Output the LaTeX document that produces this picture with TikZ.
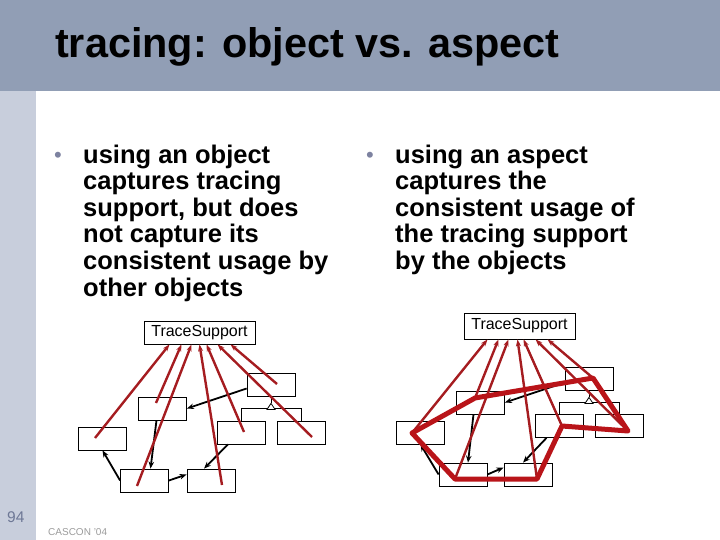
\documentclass[tikz,border=0pt]{standalone}
\usepackage{fontspec}
\setmainfont{Liberation Sans}
\usetikzlibrary{arrows.meta}

\definecolor{headband}{RGB}{145,158,181}
\definecolor{sideband}{RGB}{200,206,220}
\definecolor{bulletgray}{RGB}{125,130,160}
\definecolor{pagegray}{RGB}{110,120,150}
\definecolor{footgray}{RGB}{155,155,155}
\definecolor{tracered}{RGB}{165,28,32}
\definecolor{aspectred}{RGB}{185,20,25}

\begin{document}
\begin{tikzpicture}[x=1pt,y=-1pt,
  obj/.style={draw,line width=0.8pt,minimum width=48pt,minimum height=23pt,inner sep=0pt},
  tsbox/.style={draw,line width=0.8pt,minimum width=111pt,inner sep=0pt,font=\fontsize{16}{18}\selectfont},
  callarrow/.style={-{Stealth[length=7pt,width=5.5pt]},line width=1.8pt},
  usearrow/.style={-{Stealth[length=7pt,width=5pt]},line width=2.4pt,tracered},
  aspectline/.style={line width=5pt,aspectred,line join=round},
  bodytext/.style={anchor=north west,align=left,inner sep=0pt,font=\fontsize{25.5}{26.6}\selectfont\bfseries}]

\useasboundingbox (0,0) rectangle (720,540);
\fill[headband] (0,0) rectangle (720,91);
\fill[sideband] (0,91) rectangle (36,540);

\node (title) [anchor=base west,inner sep=0pt,font=\fontsize{41.4}{48}\selectfont\bfseries] at (55,58) {tracing: object vs. aspect};

%bullets
\node (lbul) [anchor=base west,inner sep=0pt,text=bulletgray,font=\fontsize{22}{24}\selectfont] at (54,163) {•};
\node (ltext) [bodytext] at (83,144.5) {using an object\\captures tracing\\support, but does\\not capture its\\consistent usage by\\other objects};
\node (rbul) [anchor=base west,inner sep=0pt,text=bulletgray,font=\fontsize{22}{24}\selectfont] at (366,163) {•};
\node (rtext) [bodytext] at (395,144.5) {using an aspect\\captures the\\consistent usage of\\the tracing support\\by the objects};

\node (page) [anchor=base west,inner sep=0pt,text=pagegray,font=\fontsize{15.5}{17}\selectfont] at (7,522) {94};
\node (foot) [anchor=base west,inner sep=0pt,text=footgray,font=\fontsize{10}{12}\selectfont] at (48,535) {CASCON '04};

%object side
\node (lts) [tsbox,minimum height=23pt] at (199.5,332.5) {TraceSupport};
\node (la) [obj] at (271,384.5) {};
\node (lb) [obj] at (162.5,408.5) {};
\node (lc) [obj] at (102.5,438.5) {};
\node (ld) [obj] at (144.5,480.5) {};
\node (le) [obj] at (211,480.5) {};
\node (lf) [obj] at (241,432.5) {};
\node (lg) [obj] at (301,432.5) {};

\draw[line width=0.8pt] (lf.north) -- ++(0,-12) -| (lg.north);
\draw[line width=0.8pt] (la.south) -- ++(0,7) coordinate (latip);
\draw[line width=0.8pt,fill=white] (latip) -- ++(-4,6) -- ++(8,0) -- cycle;

\draw[callarrow] ([yshift=-4pt]la.west) -- (lb.east);
\draw[callarrow] ([xshift=-6pt]lb.south) -- ([xshift=6pt]ld.north);
\draw[callarrow] (ld.west) -- (lc.south);
\draw[callarrow] (ld.east) -- ([yshift=6pt]le.west);
\draw[callarrow] ([xshift=-13pt]lf.south) -- ([xshift=-7pt]le.north);

\coordinate (lcp) at (95,438);
\coordinate (lbp) at (156,403);
\coordinate (ldp) at (137,486);
\coordinate (lep) at (222,485);
\coordinate (lfp) at (244,432);
\coordinate (lgp) at (312,437);
\coordinate (lap) at (277,384);
\foreach \p/\dx in {lcp/-30,lbp/-18,ldp/-8,lep/0,lfp/7,lgp/18,lap/31}
  \draw[usearrow] (\p) -- ([xshift=\dx pt]lts.south);

%aspect side
\node (rts) [tsbox,minimum height=26pt] at (519.5,326) {TraceSupport};
\node (ra) [obj] at (589,378.5) {};
\node (rb) [obj] at (480.5,402.5) {};
\node (rc) [obj] at (420.5,432.5) {};
\node (rd) [obj] at (463,474.5) {};
\node (re) [obj] at (528,474.5) {};
\node (rf) [obj] at (559.5,426) {};
\node (rg) [obj] at (619,426) {};

\draw[line width=0.8pt] (rf.north) -- ++(0,-12) -| (rg.north);
\draw[line width=0.8pt] (ra.south) -- ++(0,7) coordinate (ratip);
\draw[line width=0.8pt,fill=white] (ratip) -- ++(-4,6) -- ++(8,0) -- cycle;

\draw[callarrow] ([yshift=-4pt]ra.west) -- (rb.east);
\draw[callarrow] ([xshift=-7pt]rb.south) -- ([xshift=5pt]rd.north);
\draw[callarrow] (rd.west) -- (rc.south);
\draw[callarrow] (rd.east) -- ([yshift=7pt]re.west);
\draw[callarrow] ([xshift=-13pt]rf.south) -- ([xshift=-5pt]re.north);

\coordinate (rcp) at (412,433);
\coordinate (rbp) at (475,398);
\coordinate (rap) at (593,378);
\coordinate (rgp) at (628,431);
\coordinate (rfp) at (562,426);
\coordinate (rep) at (537,479);
\coordinate (rdp) at (455,479);
\foreach \p/\dx in {rcp/-32,rbp/-21,rdp/-11,rep/-2,rfp/4,rgp/16,rap/28}
  \draw[usearrow] (\p) -- ([xshift=\dx pt]rts.south);

\draw[aspectline] (rcp) -- (rbp) -- (rap) -- (rgp) -- (rfp) -- (rep) -- (rdp) -- cycle;

\end{tikzpicture}
\end{document}
